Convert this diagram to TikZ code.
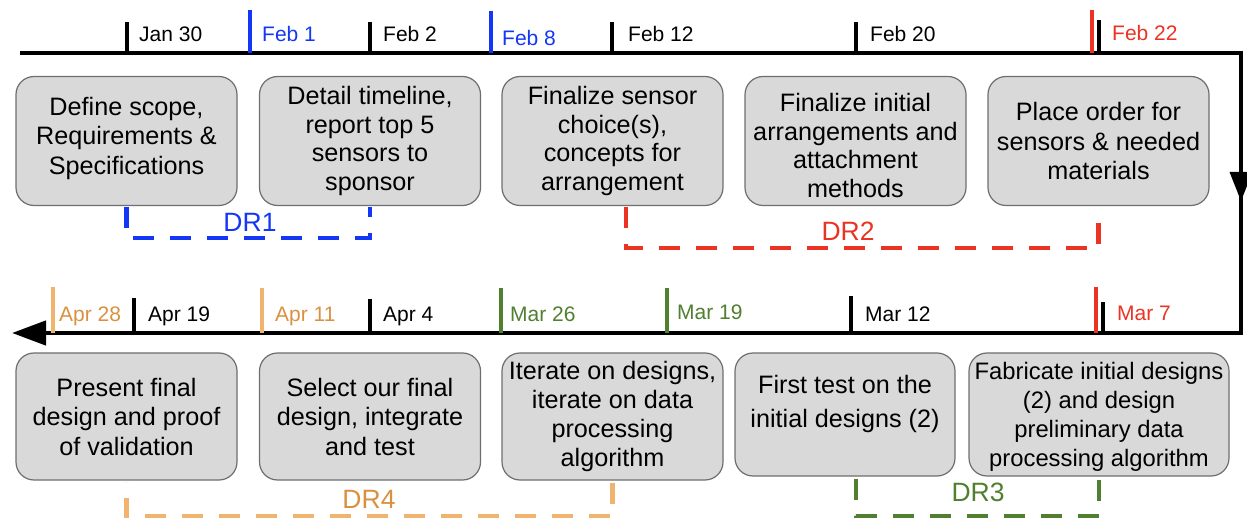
\documentclass[tikz,border=0pt]{standalone}
\usepackage{fontspec}
\setmainfont{Liberation Sans}
\usetikzlibrary{arrows.meta}

\definecolor{boxfill}{HTML}{D9D9D9}
\definecolor{boxline}{HTML}{6E6E6E}
\definecolor{drblue}{HTML}{1436F5}
\definecolor{drred}{HTML}{EA3323}
\definecolor{drorange}{HTML}{F0B46E}
\definecolor{drorangetext}{HTML}{D99140}
\definecolor{drgreen}{HTML}{4F7F2F}

\begin{document}
\begin{tikzpicture}[x=1pt,y=-1pt,
  box/.style={draw=boxline, line width=1.2pt, fill=boxfill, rounded corners=18pt,
    minimum width=221pt, minimum height=129pt, inner sep=0pt},
  txt/.style={align=center, inner sep=0pt, font=\fontsize{25.2}{29.5}\selectfont},
  txtfour/.style={txt, font=\fontsize{25.2}{28.8}\selectfont},
  datelbl/.style={anchor=base west, inner sep=0pt, font=\fontsize{21}{21}\selectfont},
  tickmark/.style={line width=4pt},
  axisline/.style={line width=4.5pt, line join=miter},
  drline/.style={line width=4.5pt, dash pattern=on 21pt off 16pt},
  drlbl/.style={inner sep=0pt, font=\fontsize{26.5}{26.5}\selectfont}
]
\useasboundingbox (0,0) rectangle (1247,518);

% ---- timeline path ----
\coordinate (tl0) at (20,53);
\coordinate (tl1) at (1241,53);
\coordinate (tl2) at (1241,333);
\coordinate (tl3) at (12,333);
\draw[axisline, -{Triangle[length=34pt,width=24pt]}] (tl0) -- (tl1) -- (tl2) -- (tl3);
\fill (1229.5,172) -- (1252.5,172) -- (1241,201) -- cycle;

% ---- upper ticks and dates ----
\draw[tickmark] (127,53) -- (127,22);
\draw[tickmark, drblue] (250,53) -- (250,10);
\draw[tickmark] (370,53) -- (370,22);
\draw[tickmark, drblue] (491,53) -- (491,11);
\draw[tickmark] (612,53) -- (612,22);
\draw[tickmark] (856,53) -- (856,22);
\draw[tickmark, drred] (1092,53) -- (1092,10);
\draw[tickmark] (1099,53) -- (1099,20);

\node[datelbl] (d1) at (139,41.5) {Jan 30};
\node[datelbl, text=drblue] (d2) at (262,42) {Feb 1};
\node[datelbl] (d3) at (383,41.5) {Feb 2};
\node[datelbl, text=drblue] (d4) at (502,45.5) {Feb 8};
\node[datelbl] (d5) at (628,41.5) {Feb 12};
\node[datelbl] (d6) at (870,41.5) {Feb 20};
\node[datelbl, text=drred] (d7) at (1112,40.5) {Feb 22};

% ---- lower ticks and dates ----
\draw[tickmark, drorange] (53,333) -- (53,287);
\draw[tickmark] (134,333) -- (134,298);
\draw[tickmark, drorange] (262,333) -- (262,288);
\draw[tickmark] (370,333) -- (370,299);
\draw[tickmark, drgreen] (501,333) -- (501,288);
\draw[tickmark, drgreen] (667,333) -- (667,288);
\draw[tickmark] (851,333) -- (851,296);
\draw[tickmark, drred] (1096,333) -- (1096,287);
\draw[tickmark] (1103,333) -- (1103,302);

\node[datelbl, text=drorangetext] (e1) at (59,322) {Apr 28};
\node[datelbl] (e2) at (148,322) {Apr 19};
\node[datelbl, text=drorangetext] (e3) at (275,322) {Apr 11};
\node[datelbl] (e4) at (383,322) {Apr 4};
\node[datelbl, text=drgreen] (e5) at (510,322) {Mar 26};
\node[datelbl, text=drgreen] (e6) at (677,319.5) {Mar 19};
\node[datelbl] (e7) at (865,322) {Mar 12};
\node[datelbl, text=drred] (e8) at (1117,320.5) {Mar 7};

% ---- upper task boxes ----
\node[box] (t1) at (126.5,141) {};
\node[box] (t2) at (370,141) {};
\node[box] (t3) at (612.5,141) {};
\node[box] (t4) at (855.5,141) {};
\node[box] (t5) at (1098.5,141) {};
\node[txt, yshift=3pt] (t1x) at (t1) {Define scope,\\Requirements \&\\Specifications};
\node[txtfour] (t2x) at (t2) {Detail timeline,\\report top 5\\sensors to\\sponsor};
\node[txtfour] (t3x) at (t3) {Finalize sensor\\choice(s),\\concepts for\\arrangement};
\node[txtfour, yshift=-4.5pt] (t4x) at (t4) {Finalize initial\\arrangements and\\attachment\\methods};
\node[txt] (t5x) at (t5) {Place order for\\sensors \& needed\\materials};

% ---- lower task boxes ----
\node[box, minimum height=127pt] (b1) at (126.5,416.5) {};
\node[box, minimum height=127pt] (b2) at (370,416.5) {};
\node[box, minimum height=127pt] (b3) at (612.5,416.5) {};
\node[box, minimum width=220pt, minimum height=123pt] (b4) at (845,414.5) {};
\node[box, minimum width=260pt, minimum height=123pt] (b5) at (1099,414.5) {};
\node[txt] (b1x) at (b1) {Present final\\design and proof\\of validation};
\node[txt] (b2x) at (b2) {Select our final\\design, integrate\\and test};
\node[txtfour] (b3x) at (b3) {Iterate on designs,\\iterate on data\\processing\\algorithm};
\node[txt, font=\fontsize{25.2}{34}\selectfont, yshift=11pt] (b4x) at (b4) {First test on the\\initial designs (2)};
\node[txtfour, font=\fontsize{23.8}{29}\selectfont, yshift=-2.5pt] (b5x) at (b5) {Fabricate initial designs\\(2) and design\\preliminary data\\processing algorithm};

% ---- design review brackets ----
\draw[drline, drblue] ([yshift=-1pt]t1.south) -- ([yshift=-32pt]t1.south) -| ([yshift=-1pt]t2.south);
\draw[drline, drred] ([xshift=13.5pt,yshift=-1pt]t3.south) -- ([xshift=13.5pt,yshift=-42pt]t3.south) -| ([yshift=-1pt]t5.south);
\draw[drline, drgreen] ([xshift=11pt,yshift=-2pt]b4.south) -- ([xshift=11pt,yshift=-39.5pt]b4.south) -| ([yshift=-1pt]b5.south);
\draw[drline, drorange] ([yshift=-2pt]b3.south) -- ([yshift=-36pt]b3.south) -| ([yshift=-1pt]b1.south);

\node[drlbl, text=drblue] (r1) at (250,222) {DR1};
\node[drlbl, text=drred] (r2) at (848,231) {DR2};
\node[drlbl, text=drgreen] (r3) at (978,492) {DR3};
\node[drlbl, text=drorangetext] (r4) at (369,499) {DR4};
\end{tikzpicture}
\end{document}
